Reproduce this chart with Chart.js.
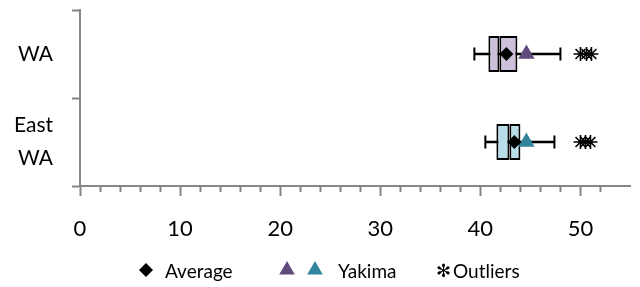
<!DOCTYPE html>
<html>
<head>
<meta charset="utf-8">
<script src="https://cdn.jsdelivr.net/npm/chart.js@4.4.1/dist/chart.umd.min.js"></script>
<style>
  html, body { margin: 0; padding: 0; background: #fff; }
  #wrap { width: 640px; height: 287px; }
</style>
</head>
<body>
<div id="wrap"><canvas id="chart"></canvas></div>
<script>
// box plot values
const categories = ['WA', ['East', 'WA']];
const whiskerLow = [39.4, 40.5];
const q1 = [40.8, 41.6];
const median = [41.9, 42.9];
const q3 = [43.7, 44.0];
const whiskerHigh = [48.0, 47.4];
const average = [42.6, 43.4];
const yakima = [44.6, 44.6];
const outliersWA = [50.0, 50.6, 51.1];
const outliersEast = [50.0, 50.5, 51.0];

const boxColors = ['#ccc0da', '#b7dee8'];
const yakimaColors = ['#604a7b', '#31859c'];
const axisGrey = '#868686';

// y uses the label itself so the category scale finds the right row
const pts = arr => arr.map((v, i) => ({ x: v, y: categories[i] }));

const legendPlugin = {
  id: 'customLegend',
  afterDraw(chart) {
    const ctx = chart.ctx;
    const drawPoint = Chart.helpers.drawPoint;
    ctx.save();
    ctx.fillStyle = '#000';
    ctx.strokeStyle = '#000';
    drawPoint(ctx, { pointStyle: 'rectRot', radius: 7, borderWidth: 0 }, 146, 270);
    ctx.fillStyle = yakimaColors[0];
    drawPoint(ctx, { pointStyle: 'triangle', radius: 9, borderWidth: 0 }, 287, 270);
    ctx.fillStyle = yakimaColors[1];
    drawPoint(ctx, { pointStyle: 'triangle', radius: 9, borderWidth: 0 }, 315, 270);
    ctx.fillStyle = '#000';
    ctx.textBaseline = 'alphabetic';
    ctx.font = '19px Lato';
    ctx.fillText('Average', 165, 278);
    ctx.fillText('Yakima', 338, 278);
    ctx.fillText('Outliers', 453, 278);
    ctx.font = '18px "DejaVu Sans"';
    ctx.fillText('\u273B', 436, 277);
    ctx.restore();
  }
};

new Chart(document.getElementById('chart'), {
  type: 'bar',
  data: {
    labels: categories,
    datasets: [
      {
        label: 'Whisker',
        data: whiskerLow.map((v, i) => [v, whiskerHigh[i]]),
        backgroundColor: '#000',
        borderWidth: 0,
        barThickness: 2,
        grouped: false,
        order: 6
      },
      {
        label: 'Lower box',
        data: q1.map((v, i) => [v, median[i]]),
        backgroundColor: boxColors,
        borderColor: '#000',
        borderWidth: 2,
        borderSkipped: false,
        categoryPercentage: 1,
        barPercentage: 0.41,
        grouped: false,
        order: 5
      },
      {
        label: 'Upper box',
        data: median.map((v, i) => [v, q3[i]]),
        backgroundColor: boxColors,
        borderColor: '#000',
        borderWidth: 2,
        borderSkipped: false,
        categoryPercentage: 1,
        barPercentage: 0.41,
        grouped: false,
        order: 5
      },
      {
        type: 'scatter',
        label: 'Caps',
        data: pts(whiskerLow).concat(pts(whiskerHigh)),
        pointStyle: 'line',
        rotation: 90,
        radius: 6.5,
        borderColor: '#000',
        borderWidth: 2,
        order: 4
      },
      {
        type: 'scatter',
        label: 'Yakima',
        data: pts(yakima),
        pointStyle: 'triangle',
        radius: 9.5,
        backgroundColor: yakimaColors,
        borderWidth: 0,
        order: 3
      },
      {
        type: 'scatter',
        label: 'Average',
        data: pts(average),
        pointStyle: 'rectRot',
        radius: 7,
        backgroundColor: '#000',
        borderWidth: 0,
        order: 2
      },
      {
        type: 'scatter',
        label: 'Outliers',
        data: outliersWA.map(v => ({ x: v, y: categories[0] }))
          .concat(outliersEast.map(v => ({ x: v, y: categories[1] }))),
        pointStyle: 'star',
        radius: 7,
        borderColor: '#000',
        borderWidth: 1.6,
        order: 1
      }
    ]
  },
  options: {
    indexAxis: 'y',
    responsive: true,
    maintainAspectRatio: false,
    animation: false,
    events: [],
    layout: { padding: { top: 10, right: 5, bottom: 37, left: 0 } },
    plugins: { legend: { display: false }, tooltip: { enabled: false } },
    scales: {
      x: {
        type: 'linear',
        min: 0,
        max: 55,
        border: { color: axisGrey, width: 2 },
        grid: {
          drawOnChartArea: false,
          tickLength: 10,
          tickWidth: 2,
          tickColor: axisGrey,
          tickBorderDash: ctx => (ctx.tick && ctx.tick.value % 10 === 0) ? [] : [5, 100]
        },
        afterBuildTicks: s => { s.ticks = s.ticks.filter(t => t.value % 2 === 0); },
        afterFit: s => { s.height = 64; s.paddingLeft = 0; s.paddingRight = 0; },
        ticks: {
          stepSize: 2,
          autoSkip: false,
          maxRotation: 0,
          padding: 20,
          color: '#000',
          font: { family: 'Lato', size: 22 },
          callback: v => (v % 10 === 0 ? String(v) : '')
        }
      },
      y: {
        type: 'category',
        offset: true,
        border: { color: axisGrey, width: 2 },
        grid: {
          offset: true,
          drawOnChartArea: false,
          tickLength: 8,
          tickWidth: 2,
          tickColor: axisGrey
        },
        afterFit: s => { s.width = 80; s.paddingTop = 0; s.paddingBottom = 0; },
        ticks: {
          autoSkip: false,
          padding: 19,
          color: '#000',
          font: { family: 'Lato', size: 21, lineHeight: 1.55 }
        }
      }
    }
  },
  plugins: [legendPlugin]
});
</script>
</body>
</html>
